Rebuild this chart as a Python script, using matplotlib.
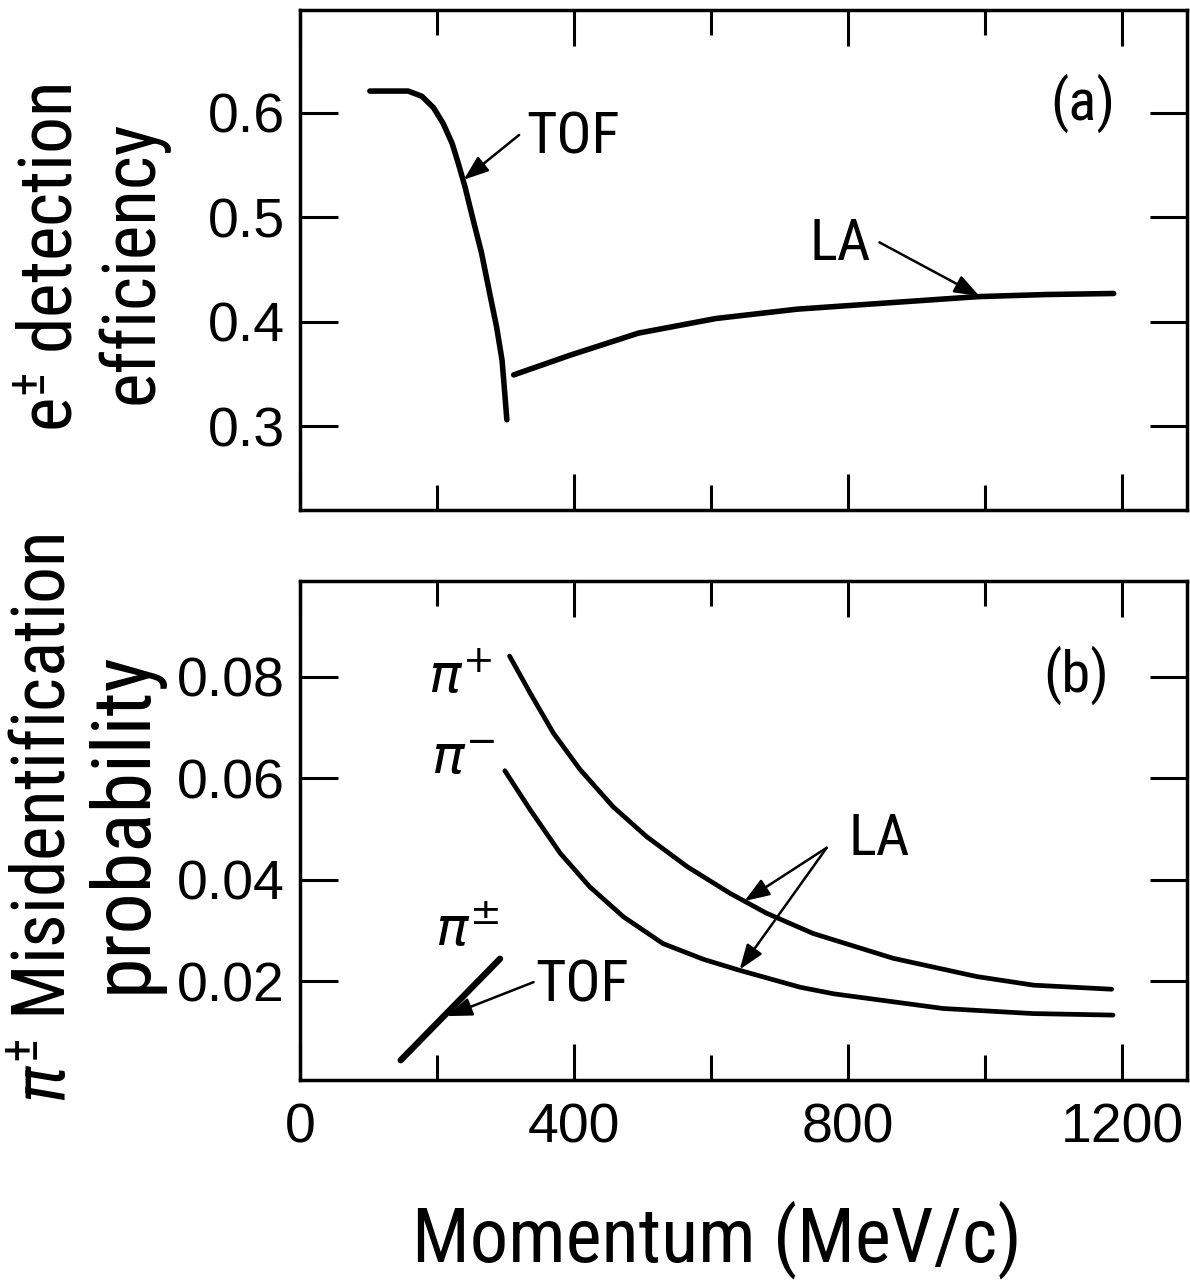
import matplotlib
matplotlib.use("Agg")
import matplotlib.pyplot as plt
from matplotlib import font_manager
from matplotlib.ticker import FixedLocator

# ---------------- data ----------------
# (a) e+- detection efficiency
tof_a_p = [102, 158, 178, 195, 209, 222, 231, 241, 253, 265, 277, 287, 295, 299, 302]
tof_a_eff = [0.621, 0.621, 0.616, 0.605, 0.590, 0.571, 0.552, 0.529, 0.497, 0.466,
             0.427, 0.395, 0.363, 0.331, 0.306]
la_a_p = [312, 395, 494, 607, 726, 858, 990, 1089, 1188]
la_a_eff = [0.349, 0.368, 0.389, 0.403, 0.412, 0.418, 0.424, 0.426, 0.427]

# (b) pi+- misidentification probability
la_pip_p = [306, 336, 370, 409, 457, 506, 565, 628, 681, 749, 866, 988, 1071, 1185]
la_pip_prob = [0.0841, 0.0768, 0.0689, 0.0617, 0.0544, 0.0485, 0.0426, 0.0373, 0.0334,
               0.0294, 0.0245, 0.0209, 0.0192, 0.0184]
la_pim_p = [299, 336, 380, 423, 472, 530, 589, 640, 730, 779, 939, 1070, 1187]
la_pim_prob = [0.0615, 0.0538, 0.0452, 0.0386, 0.0327, 0.0274, 0.0243, 0.0222, 0.0188,
               0.0175, 0.0146, 0.0136, 0.0133]
tof_b_p = [147, 292]
tof_b_prob = [0.0044, 0.0244]

x_major = [0, 400, 800, 1200]
x_minor = [200, 600, 1000]
x_labels = ["0", "400", "800", "1200"]
ya_ticks = [0.3, 0.4, 0.5, 0.6]
ya_labels = ["0.3", "0.4", "0.5", "0.6"]
yb_ticks = [0.02, 0.04, 0.06, 0.08]
yb_labels = ["0.02", "0.04", "0.06", "0.08"]

# ---------------- fonts ----------------
avail = {f.name for f in font_manager.fontManager.ttflist}
def pick(cands, default="DejaVu Sans"):
    for c in cands:
        if c in avail:
            return c
    return default

NARROW = pick(["Liberation Sans Narrow", "DejaVu Sans Condensed", "Roboto Condensed", "Liberation Sans"])
REG = pick(["Liberation Sans", "Noto Sans"])
nscale = 1.0 if ("Narrow" in NARROW or "Condensed" in NARROW) else 0.84
NFAM = [NARROW, "DejaVu Sans"]

plt.rcParams["mathtext.fontset"] = "custom"
plt.rcParams["mathtext.rm"] = NARROW
plt.rcParams["mathtext.it"] = NARROW + ":italic"
plt.rcParams["mathtext.bf"] = NARROW + ":bold"
plt.rcParams["font.family"] = [REG, "DejaVu Sans"]

W, H = 1190, 1287
fig = plt.figure(figsize=(W / 100, H / 100), dpi=100)
fig.patch.set_facecolor("white")

def rect(l, t, r, b):
    return [l / W, 1 - b / H, (r - l) / W, (b - t) / H]

ax1 = fig.add_axes(rect(300, 10, 1187, 510))
ax2 = fig.add_axes(rect(300, 581, 1187, 1080))

XMAX = 1295
for ax in (ax1, ax2):
    ax.set_xlim(0, XMAX)
    ax.xaxis.set_major_locator(FixedLocator(x_major))
    ax.xaxis.set_minor_locator(FixedLocator(x_minor))
    ax.tick_params(which="both", direction="in", top=True, right=True,
                   width=2.2, color="black")
    ax.tick_params(which="major", length=26)
    ax.tick_params(which="minor", length=18)
    ax.tick_params(axis="y", which="major", length=27, pad=11, labelsize=40)
    ax.tick_params(axis="x", which="major", pad=16, labelsize=40)
    for s in ax.spines.values():
        s.set_linewidth(2.5)

ax1.set_ylim(0.2195, 0.6987)
ax1.set_yticks(ya_ticks)
ax1.set_yticklabels(ya_labels)
ax1.set_xticklabels([])

ax2.set_ylim(0.0005, 0.0989)
ax2.set_yticks(yb_ticks)
ax2.set_yticklabels(yb_labels)
ax2.set_xticklabels(x_labels)

# ---------------- curves ----------------
kw = dict(color="black", solid_capstyle="round", solid_joinstyle="round")
ax1.plot(tof_a_p, tof_a_eff, lw=4.0, **kw)
ax1.plot(la_a_p, la_a_eff, lw=4.0, **kw)

ax2.plot(la_pip_p, la_pip_prob, lw=3.4, **kw)
ax2.plot(la_pim_p, la_pim_prob, lw=3.4, **kw)
ax2.plot(tof_b_p, tof_b_prob, lw=4.6, **kw)

# ---------------- annotations ----------------
arr = dict(arrowstyle="-|>,head_length=0.38,head_width=0.14", lw=1.8, color="black",
           shrinkA=0, shrinkB=0, mutation_scale=40)
lab_fs = 42 * nscale

ax1.text(398, 0.576, "TOF", fontsize=lab_fs, family=NFAM, ha="center", va="center")
ax1.annotate("", xy=(239, 0.536), xytext=(320, 0.579), arrowprops=arr)
ax1.text(788, 0.4735, "LA", fontsize=lab_fs, family=NFAM, ha="center", va="center")
ax1.annotate("", xy=(992, 0.4245), xytext=(846, 0.476), arrowprops=arr)
ax1.text(1143, 0.6096, "(a)", fontsize=lab_fs, family=NFAM, ha="center", va="center")

ax2.text(411.5, 0.019, "TOF", fontsize=lab_fs, family=NFAM, ha="center", va="center")
ax2.annotate("", xy=(214.5, 0.0131), xytext=(341, 0.0198), arrowprops=arr)
ax2.text(846, 0.048, "LA", fontsize=lab_fs, family=NFAM, ha="center", va="center")
ax2.annotate("", xy=(649, 0.0358), xytext=(769, 0.0463), arrowprops=arr)
ax2.annotate("", xy=(642, 0.0223), xytext=(769, 0.0463), arrowprops=arr)
ax2.text(1133, 0.0804, "(b)", fontsize=lab_fs, family=NFAM, ha="center", va="center")

ax2.text(233.5, 0.0796, r"$\pi^{+}$", fontsize=39, math_fontfamily="dejavusans", ha="center", va="center")
ax2.text(238, 0.0636, r"$\pi^{-}$", fontsize=39, math_fontfamily="dejavusans", ha="center", va="center")
ax2.text(245, 0.0297, r"$\pi^{\pm}$", fontsize=39, math_fontfamily="dejavusans", ha="center", va="center")

# ---------------- axis titles ----------------
fig.text(52 / W, 1 - 258 / H, "e$^{\\pm}$ detection", rotation=90,
         fontsize=53 * nscale, family=NFAM, ha="center", va="center")
fig.text(132 / W, 1 - 262 / H, "efficiency", rotation=90,
         fontsize=53 * nscale, family=NFAM, ha="center", va="center")
fig.text(46 / W, 1 - 818 / H, "$\\pi^{\\pm}$ Misidentification", rotation=90,
         fontsize=53 * nscale, family=NFAM, ha="center", va="center")
fig.text(124 / W, 1 - 822 / H, "probability", rotation=90,
         fontsize=59 * nscale, family=NFAM, ha="center", va="center")
fig.text(717 / W, 1 - 1262 / H, "Momentum (MeV/c)", fontsize=55 * nscale,
         family=NFAM, ha="center", va="baseline")

fig.savefig("out.png", dpi=100, facecolor="white")
